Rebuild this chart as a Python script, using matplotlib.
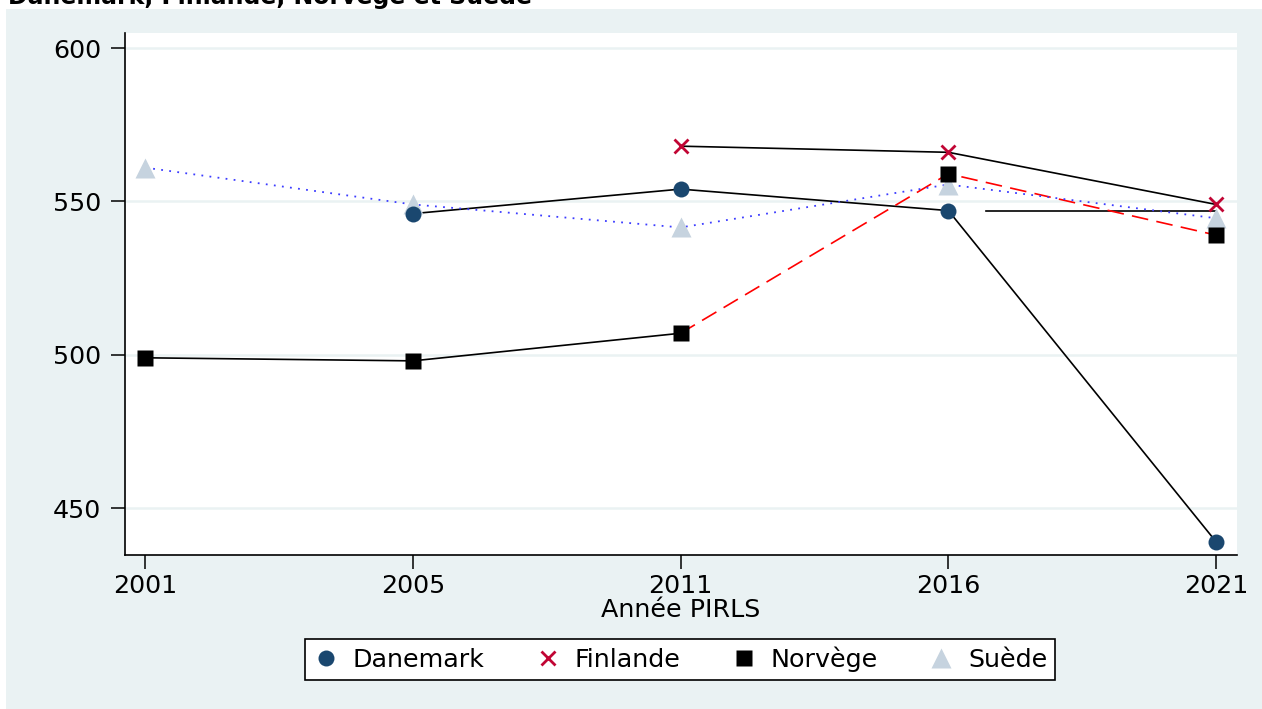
import matplotlib
matplotlib.use("Agg")
import matplotlib.pyplot as plt
from matplotlib.patches import Rectangle
from matplotlib.lines import Line2D

years = ["2001", "2005", "2011", "2016", "2021"]
danemark = [None, 546, 554, 547, 439]
finlande = [None, None, 568, 566, 549]
norvege = [499, 498, 507, 559, 539]
suede = [561, 549, 541.5, 555.5, 544.5]
yticks = [450, 500, 550, 600]
title = "Danemark, Finlande, Norvège et Suède"

W, H = 1262, 709
FS = 18.3
fig = plt.figure(figsize=(W / 100, H / 100), dpi=100, facecolor="white")
fig.patches.append(Rectangle((6 / W, 0), 1, 1 - 9 / H, transform=fig.transFigure,
                             facecolor="#eaf2f3", edgecolor="none", zorder=-5))
fig.text(8 / W, 1 - 4 / H, title, fontsize=17, fontweight="bold", va="baseline", ha="left")

ax = fig.add_axes([125 / W, (H - 555) / H, (1237 - 125) / W, (555 - 33) / H])
ax.set_facecolor("white")

def pts(vals):
    xs = [i for i, v in enumerate(vals) if v is not None]
    ys = [v for v in vals if v is not None]
    return xs, ys

for y in yticks:
    ax.axhline(y, color="#eaf2f3", lw=1.8, zorder=1)

xd, yd = pts(danemark)
xf, yf = pts(finlande)
xn, yn = pts(norvege)
xs, ys = pts(suede)

LW = 1.2
ax.plot(xd, yd, color="black", lw=LW, zorder=3)
ax.plot([3.14, 4], [danemark[3], danemark[3]], color="black", lw=LW, zorder=3)
ax.plot(xf, yf, color="black", lw=LW, zorder=3)
ax.plot(xn[:3], yn[:3], color="black", lw=LW, zorder=3)
ax.plot(xn[2:], yn[2:], color="#ff0000", lw=LW, ls=(0, (10, 5)), zorder=3)
ax.plot(xs, ys, color="#3c3cff", lw=1.3, ls=(0, (1, 3.5)), zorder=3)

sty = dict(ls="none", zorder=4)
ax.plot(xs, ys, marker="^", ms=15, color="#c6d3df", mec="none", **sty)
ax.plot(xd, yd, marker="o", ms=11.5, color="#1a476f", mec="none", **sty)
ax.plot(xf, yf, marker="x", ms=10, mew=2, color="#c10534", **sty)
ax.plot(xn, yn, marker="s", ms=11.5, color="black", mec="none", **sty)

ax.set_xlim(-0.075, 4.078)
ax.set_ylim(434.7, 604.9)
ax.set_xticks(range(len(years)))
ax.set_xticklabels(years)
ax.set_yticks(yticks)
ax.tick_params(axis="both", labelsize=FS, length=10, width=1.1, colors="black")
ax.tick_params(axis="y", pad=7)
ax.tick_params(axis="x", pad=4)
ax.set_xlabel("Année PIRLS", fontsize=FS, labelpad=0)
for s in ["top", "right"]:
    ax.spines[s].set_visible(False)
for s in ["left", "bottom"]:
    ax.spines[s].set_linewidth(1.2)

handles = [
    Line2D([], [], ls="none", marker="o", ms=11.5, color="#1a476f", mec="none"),
    Line2D([], [], ls="none", marker="x", ms=10, mew=2, color="#c10534"),
    Line2D([], [], ls="none", marker="s", ms=11.5, color="black", mec="none"),
    Line2D([], [], ls="none", marker="^", ms=15, color="#c6d3df", mec="none"),
]
leg = fig.legend(handles, ["Danemark", "Finlande", "Norvège", "Suède"], loc="center",
                 bbox_to_anchor=(680 / W, 1 - 659.5 / H), ncol=4, fontsize=FS,
                 frameon=True, fancybox=False, edgecolor="black", framealpha=1,
                 handlelength=1.0, handletextpad=0.55, columnspacing=2.0, borderpad=0.3)
leg.get_frame().set_linewidth(1.2)

fig.savefig("out.png", dpi=100, facecolor="white")
